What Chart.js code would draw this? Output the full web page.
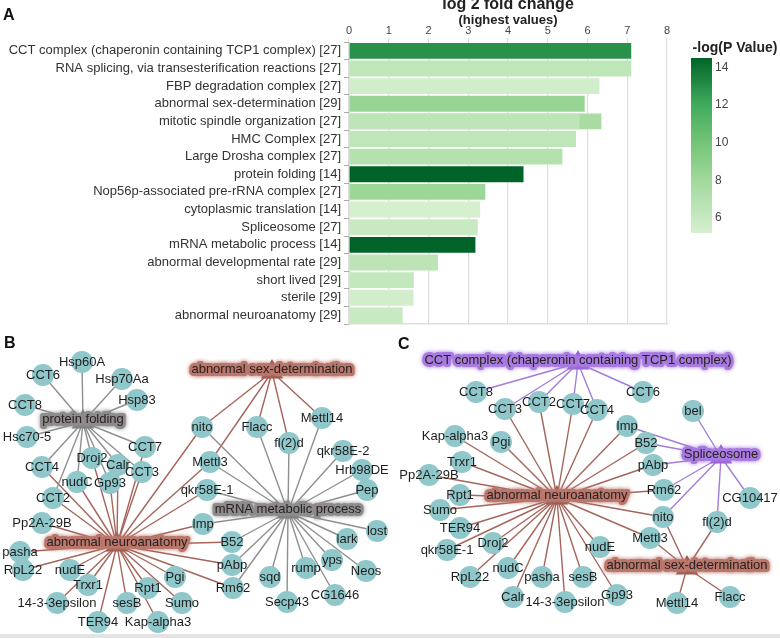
<!DOCTYPE html>
<html>
<head>
<meta charset="utf-8">
<script src="https://cdn.jsdelivr.net/npm/chart.js@4.4.1/dist/chart.umd.min.js"></script>
<style>
  body { margin: 0; background: #fff; font-family: "Liberation Sans", Arial, sans-serif; }
  #wrap { position: relative; width: 780px; height: 638px; overflow: hidden; }
  canvas { position: absolute; }
  .tag { position: absolute; font-weight: bold; font-size: 16px; color: #111; }
  #band { position: absolute; left: 0; top: 634px; width: 780px; height: 4px; background: #e4e4e4; }
</style>
</head>
<body>
<div id="wrap">
  <canvas id="chartA" width="780" height="335" style="left:0;top:0"></canvas>
  <canvas id="chartB" width="400" height="300" style="left:0;top:335px"></canvas>
  <canvas id="chartC" width="390" height="300" style="left:390px;top:335px"></canvas>
  <div class="tag" style="left:3px;top:6px">A</div>
  <div class="tag" style="left:4px;top:334px">B</div>
  <div class="tag" style="left:398px;top:335px">C</div>
  <div id="band"></div>
</div>
<script>
// ---- panel A data ----
const termLabels = [
  'CCT complex (chaperonin containing TCP1 complex) [27]',
  'RNA splicing, via transesterification reactions [27]',
  'FBP degradation complex [27]',
  'abnormal sex-determination [29]',
  'mitotic spindle organization [27]',
  'HMC Complex [27]',
  'Large Drosha complex [27]',
  'protein folding [14]',
  'Nop56p-associated pre-rRNA complex [27]',
  'cytoplasmic translation [14]',
  'Spliceosome [27]',
  'mRNA metabolic process [14]',
  'abnormal developmental rate [29]',
  'short lived [29]',
  'sterile [29]',
  'abnormal neuroanatomy [29]'
];
const foldChange = [7.1, 7.1, 6.3, 5.93, 5.8, 5.71, 5.37, 4.39, 3.43, 3.30, 3.24, 3.18, 2.24, 1.63, 1.62, 1.35];
const negLogP = [12.9, 6.4, 5.4, 8.4, 6.5, 6.4, 6.95, 14.5, 8.2, 5.25, 5.95, 14.5, 6.6, 6.15, 5.45, 5.95];
// second (overlapping) entry on the mitotic spindle row
const extraFold = [null, null, null, null, 6.35, null, null, null, null, null, null, null, null, null, null, null];
const extraNegLogP = 7.6;
const xTicks = [0, 1, 2, 3, 4, 5, 6, 7, 8];
const legendTicks = [6, 8, 10, 12, 14];
const legendMin = 5.2, legendMax = 14.5;

// Greens colour ramp for -log(P)
const greenStops = [[5.2, [214, 239, 208]], [8, [161, 217, 155]], [10, [116, 196, 118]], [12, [65, 171, 93]], [14.5, [0, 100, 40]]];
function greenFor(v) {
  if (v <= greenStops[0][0]) return 'rgb(' + greenStops[0][1].join(',') + ')';
  for (let i = 1; i < greenStops.length; i++) {
    if (v <= greenStops[i][0]) {
      const a = greenStops[i - 1], b = greenStops[i];
      const t = (v - a[0]) / (b[0] - a[0]);
      const c = a[1].map((q, k) => Math.round(q + (b[1][k] - q) * t));
      return 'rgb(' + c.join(',') + ')';
    }
  }
  return 'rgb(' + greenStops[greenStops.length - 1][1].join(',') + ')';
}

const headerAndLegend = {
  id: 'headerAndLegend',
  afterDraw(chart) {
    const ctx = chart.ctx;
    const area = chart.chartArea;
    const cx = (area.left + area.right) / 2;
    ctx.save();
    ctx.fillStyle = '#222';
    ctx.textAlign = 'center';
    ctx.textBaseline = 'middle';
    ctx.font = 'bold 16px "Liberation Sans", Arial';
    ctx.fillText('log 2 fold change', cx, 5);
    ctx.font = 'bold 13px "Liberation Sans", Arial';
    ctx.fillText('(highest values)', cx, 20);

    // colour legend
    const lx = 691, lw = 21, top = 58, bottom = 233;
    const yOf = v => top + (legendMax - v) / (legendMax - legendMin) * (bottom - top);
    const grad = ctx.createLinearGradient(0, top, 0, bottom);
    greenStops.forEach(s => {
      grad.addColorStop((legendMax - s[0]) / (legendMax - legendMin), 'rgb(' + s[1].join(',') + ')');
    });
    ctx.fillStyle = grad;
    ctx.fillRect(lx, top, lw, bottom - top);
    ctx.fillStyle = '#222';
    ctx.font = 'bold 14px "Liberation Sans", Arial';
    ctx.fillText('-log(P Value)', 735, 48);
    ctx.textAlign = 'left';
    ctx.font = '12px "Liberation Sans", Arial';
    ctx.fillStyle = '#444';
    legendTicks.forEach(t => ctx.fillText(String(t), lx + lw + 3, yOf(t)));
    ctx.restore();
  }
};

new Chart(document.getElementById('chartA'), {
  type: 'bar',
  data: {
    labels: termLabels,
    datasets: [
      {
        data: foldChange,
        backgroundColor: negLogP.map(greenFor),
        barPercentage: 0.9,
        categoryPercentage: 1,
        grouped: false,
        order: 0
      },
      {
        data: extraFold,
        backgroundColor: greenFor(extraNegLogP),
        barPercentage: 0.9,
        categoryPercentage: 1,
        grouped: false,
        order: 1
      }
    ]
  },
  options: {
    indexAxis: 'y',
    responsive: false,
    animation: false,
    events: [],
    layout: { padding: { left: 0, right: 113, top: 0, bottom: 10 } },
    plugins: { legend: { display: false }, tooltip: { enabled: false } },
    scales: {
      x: {
        position: 'top',
        min: 0,
        max: 8,
        afterBuildTicks: s => { s.ticks = xTicks.map(v => ({ value: v })); },
        afterFit: s => { s.height = 42; },
        ticks: { font: { size: 11, family: '"Liberation Sans", Arial' }, color: '#444', padding: 0 },
        grid: { color: '#dedede', tickLength: 4, lineWidth: 1.2 },
        border: { display: false }
      },
      x2: {
        position: 'bottom',
        min: 0,
        max: 8,
        afterFit: s => { s.height = 0; },
        ticks: { display: false },
        grid: { display: false },
        border: { color: '#dedede', width: 1.5 }
      },
      y: {
        afterFit: s => { s.width = 349; },
        ticks: { autoSkip: false, font: { size: 13, family: '"Liberation Sans", Arial' }, color: '#333', padding: 3 },
        grid: { drawOnChartArea: false, tickLength: 5, color: '#aaa' },
        border: { color: '#ddd' }
      }
    }
  },
  plugins: [headerAndLegend]
});

// ---- panel B network ----
const bGenes = ['Hsp60A', 'CCT6', 'Hsp70Aa', 'Hsp83', 'CCT8', 'Hsc70-5', 'CCT7', 'CCT4', 'Droj2', 'Calr', 'CCT3', 'nudC', 'Gp93',
  'nito', 'Flacc', 'fl(2)d', 'Mettl14', 'qkr58E-2', 'Hrb98DE', 'Mettl3', 'qkr58E-1', 'CCT2', 'Pep', 'Pp2A-29B', 'Imp', 'lost',
  'B52', 'lark', 'pasha', 'yps', 'pAbp', 'RpL22', 'nudE', 'Neos', 'rump', 'sqd', 'Pgi', 'Trxr1', 'Rpt1', 'Rm62', 'CG1646',
  '14-3-3epsilon', 'sesB', 'Sumo', 'Secp43', 'TER94', 'Kap-alpha3'];
const bGeneX = [82, 43, 122, 137, 25, 27, 145, 42, 92, 118, 142, 77, 110,
  202, 257, 289, 322, 343, 362, 210, 207, 53, 367, 42, 203, 377,
  232, 347, 20, 332, 232, 23, 70, 366, 306, 270, 175, 88, 148, 233, 335,
  57, 127, 182, 287, 98, 158];
const bGeneY = [27, 40, 44, 65, 70, 102, 112, 132, 123, 130, 137, 147, 148,
  92, 92, 108, 83, 116, 135, 127, 155, 163, 155, 188, 189, 196,
  207, 204, 217, 225, 230, 235, 235, 236, 233, 242, 242, 250, 253, 253, 260,
  268, 268, 268, 267, 287, 287];
const bHubs = ['protein folding', 'abnormal sex-determination', 'mRNA metabolic process', 'abnormal neuroanatomy'];
const bHubX = [83, 272, 288, 117];
const bHubY = [87, 37, 177, 210];
const bProteinFolding = ['Hsp60A', 'CCT6', 'Hsp70Aa', 'Hsp83', 'CCT8', 'Hsc70-5', 'CCT7', 'CCT4', 'Droj2', 'Calr', 'CCT3', 'nudC', 'Gp93', 'CCT2'];
const bSexDet = ['nito', 'Mettl3', 'Flacc', 'fl(2)d', 'Mettl14'];
const bMrna = ['nito', 'Mettl3', 'qkr58E-1', 'Flacc', 'fl(2)d', 'Mettl14', 'qkr58E-2', 'Hrb98DE', 'Pep', 'lost', 'lark', 'yps', 'Neos',
  'CG1646', 'rump', 'sqd', 'Secp43', 'Rm62', 'pAbp', 'B52', 'Imp'];
const bNeuro = ['CCT4', 'CCT2', 'Pp2A-29B', 'pasha', 'RpL22', 'nudE', 'Trxr1', '14-3-3epsilon', 'TER94', 'sesB', 'Kap-alpha3', 'Rpt1',
  'Sumo', 'Pgi', 'Rm62', 'pAbp', 'B52', 'Imp', 'qkr58E-1', 'Mettl3', 'nito', 'CCT3', 'CCT7', 'Calr', 'Gp93', 'Droj2', 'nudC'];

// ---- panel C network ----
const cGenes = ['CCT8', 'CCT6', 'CCT3', 'CCT2', 'CCT7', 'CCT4', 'bel', 'Imp', 'Kap-alpha3', 'Pgi', 'B52', 'Trxr1', 'pAbp', 'Pp2A-29B',
  'Rm62', 'Rpt1', 'CG10417', 'Sumo', 'nito', 'fl(2)d', 'TER94', 'Mettl3', 'Droj2', 'qkr58E-1', 'nudE', 'RpL22', 'nudC', 'pasha',
  'sesB', 'Calr', '14-3-3epsilon', 'Gp93', 'Mettl14', 'Flacc'];
const cGeneX = [86, 253, 115, 149, 183, 207, 303, 237, 65, 111, 256, 72, 263, 39,
  274, 70, 360, 50, 273, 327, 70, 260, 103, 57, 210, 80, 118, 152,
  193, 123, 175, 227, 287, 340];
const cGeneY = [57, 57, 74, 67, 69, 75, 76, 91, 101, 107, 108, 127, 130, 140,
  155, 160, 163, 175, 182, 187, 193, 203, 208, 215, 212, 242, 233, 242,
  242, 262, 267, 260, 268, 262];
const cHubs = ['CCT complex (chaperonin containing TCP1 complex)', 'Spliceosome', 'abnormal neuroanatomy', 'abnormal sex-determination'];
const cHubX = [188, 331, 167, 297];
const cHubY = [28, 122, 163, 233];
const cCct = ['CCT8', 'CCT3', 'CCT2', 'CCT7', 'CCT4', 'CCT6'];
const cSplice = ['bel', 'Imp', 'B52', 'pAbp', 'Rm62', 'nito', 'fl(2)d', 'CG10417'];
const cNeuro = ['CCT3', 'CCT2', 'CCT7', 'CCT4', 'Imp', 'B52', 'pAbp', 'Rm62', 'nito', 'Mettl3', 'nudE', 'Gp93', 'sesB', '14-3-3epsilon',
  'pasha', 'Calr', 'nudC', 'RpL22', 'Droj2', 'qkr58E-1', 'TER94', 'Sumo', 'Rpt1', 'Pp2A-29B', 'Trxr1', 'Pgi', 'Kap-alpha3'];
const cSexDet = ['Mettl3', 'nito', 'fl(2)d', 'Mettl14', 'Flacc'];

const BROWN = { edge: '#a5655b', hub: '#9c574c', halo: '#b9766b' };
const GRAY = { edge: '#8f8f8f', hub: '#7d7d7d', halo: '#8c8c8c' };
const PURPLE = { edge: '#a37dd9', hub: '#9863d5', halo: '#a77ae0' };
const NODE_FILL = '#8fc7ca';

const netLabels = {
  id: 'netLabels',
  afterDatasetsDraw(chart) {
    const ctx = chart.ctx;
    ctx.save();
    ctx.textAlign = 'center';
    ctx.textBaseline = 'middle';
    ctx.font = '13px "Liberation Sans", Arial';
    chart.data.datasets.forEach((ds, i) => {
      if (!ds.names || ds.halos) return;
      chart.getDatasetMeta(i).data.forEach((pt, j) => {
        ctx.fillStyle = '#1e1e1e';
        ctx.fillText(ds.names[j], pt.x, pt.y);
      });
    });
    chart.data.datasets.forEach((ds, i) => {
      if (!ds.halos) return;
      chart.getDatasetMeta(i).data.forEach((pt, j) => {
        const y = pt.y - 3;
        ctx.lineJoin = 'round';
        ctx.strokeStyle = ds.halos[j];
        ctx.shadowColor = ds.halos[j];
        ctx.shadowBlur = 4;
        ctx.lineWidth = 6;
        ctx.strokeText(ds.names[j], pt.x, y);
        ctx.shadowBlur = 0;
        ctx.lineWidth = 1;
        ctx.strokeStyle = 'rgba(60,30,30,0.35)';
        ctx.fillStyle = '#2a2020';
        ctx.fillText(ds.names[j], pt.x, y);
      });
    });
    ctx.restore();
  }
};

function buildNetwork(canvasId, width, genes, gx, gy, hubs, hx, hy, groups) {
  const pos = {};
  genes.forEach((g, i) => { pos[g] = { x: gx[i], y: gy[i] }; });
  const datasets = [];
  groups.forEach(gr => {
    const h = hubs.indexOf(gr.hub);
    gr.targets.forEach(t => {
      datasets.push({
        data: [{ x: hx[h], y: hy[h] }, pos[t]],
        showLine: true,
        borderColor: gr.style.edge,
        borderWidth: 1.4,
        pointRadius: 0,
        order: 2
      });
    });
  });
  datasets.push({
    data: genes.map(g => pos[g]),
    names: genes,
    pointRadius: 11,
    pointBackgroundColor: NODE_FILL,
    pointBorderWidth: 0,
    order: 1
  });
  const hubStyle = hubs.map(name => groups.find(gr => gr.hub === name).style);
  datasets.push({
    data: hubs.map((n, i) => ({ x: hx[i], y: hy[i] })),
    names: hubs,
    halos: hubStyle.map(s => s.halo),
    pointStyle: 'triangle',
    pointRadius: 13,
    pointBackgroundColor: hubStyle.map(s => s.hub),
    pointBorderWidth: 0,
    order: 0
  });
  new Chart(document.getElementById(canvasId), {
    type: 'scatter',
    data: { datasets: datasets },
    options: {
      responsive: false,
      animation: false,
      events: [],
      layout: { padding: 0, autoPadding: false },
      plugins: { legend: { display: false }, tooltip: { enabled: false } },
      scales: {
        x: { display: false, min: 0, max: width },
        y: { display: false, min: 0, max: 300, reverse: true }
      }
    },
    plugins: [netLabels]
  });
}

buildNetwork('chartB', 400, bGenes, bGeneX, bGeneY, bHubs, bHubX, bHubY, [
  { hub: 'protein folding', targets: bProteinFolding, style: GRAY },
  { hub: 'mRNA metabolic process', targets: bMrna, style: GRAY },
  { hub: 'abnormal sex-determination', targets: bSexDet, style: BROWN },
  { hub: 'abnormal neuroanatomy', targets: bNeuro, style: BROWN }
]);

buildNetwork('chartC', 390, cGenes, cGeneX, cGeneY, cHubs, cHubX, cHubY, [
  { hub: 'CCT complex (chaperonin containing TCP1 complex)', targets: cCct, style: PURPLE },
  { hub: 'Spliceosome', targets: cSplice, style: PURPLE },
  { hub: 'abnormal neuroanatomy', targets: cNeuro, style: BROWN },
  { hub: 'abnormal sex-determination', targets: cSexDet, style: BROWN }
]);
</script>
</body>
</html>
